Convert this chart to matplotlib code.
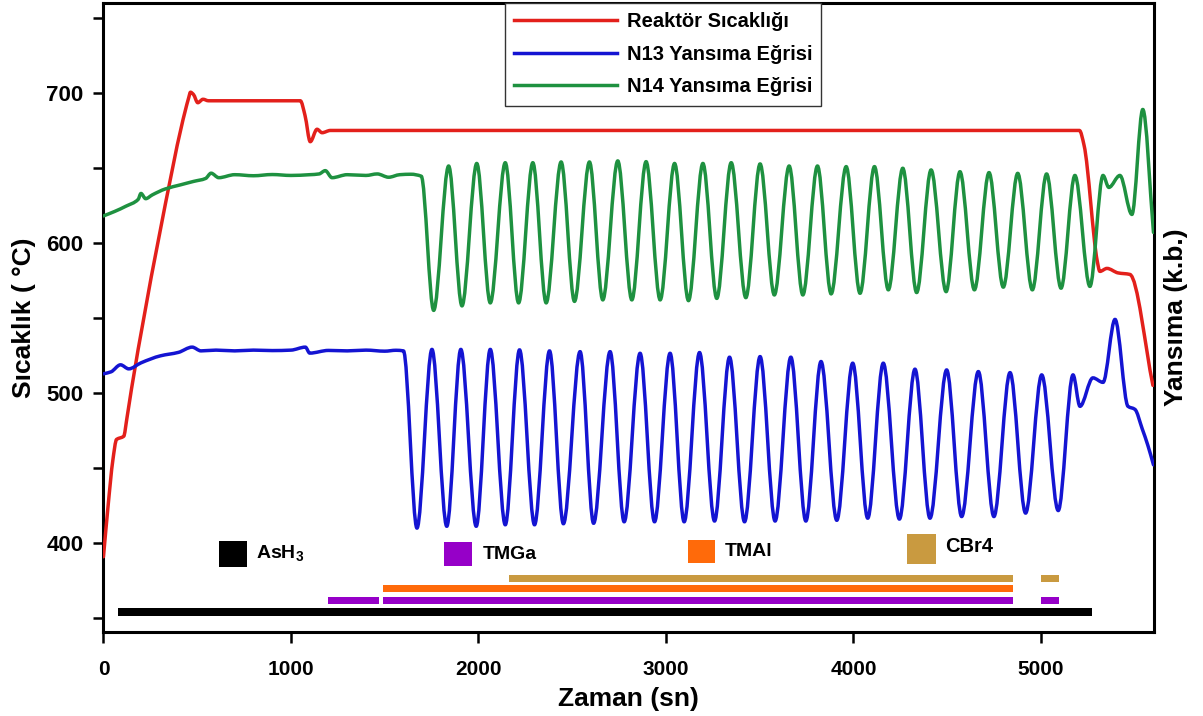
import numpy as np
import matplotlib
matplotlib.use("Agg")
import matplotlib.pyplot as plt
from matplotlib.path import Path
from matplotlib.patches import PathPatch, Rectangle
from matplotlib.lines import Line2D
from matplotlib.ticker import FuncFormatter

# ---------------------------------------------------------------- data
# Reactor temperature (s, °C)
temp_t = [0, 25, 50, 70, 90, 108, 125, 150, 290, 455, 464, 480, 503, 531, 560,
          1050, 1075, 1103, 1139, 1166, 1210, 5205, 5230, 5300, 5314, 5352,
          5411, 5474, 5597]
temp_v = [390.7, 425, 455, 469, 470, 471, 483, 503, 600, 697, 700.5, 699,
          693.5, 695.8, 694.8, 694.8, 685, 667.5, 675.8, 673.5, 675, 675, 665,
          588, 581, 583, 580, 579, 505]

# N13 reflectance trace (plotted on the temperature scale)
n13_t = [0, 40, 91, 135, 200, 304, 400, 473, 520, 600, 700, 800, 900, 1000,
         1077, 1100, 1200, 1300, 1400, 1500, 1560, 1600,
         1672, 1752, 1831, 1906, 1988, 2063, 2143, 2219, 2299, 2379, 2453,
         2542, 2614, 2702, 2777, 2862, 2939, 3022, 3097, 3179, 3259, 3339,
         3419, 3502, 3582, 3666, 3746, 3827, 3911, 3996, 4076, 4159, 4245,
         4328, 4408, 4497, 4577, 4666, 4749, 4835, 4918, 5004, 5092,
         5171, 5208, 5277, 5331, 5395, 5464, 5501, 5540, 5570, 5600]
n13_v = [512.7, 514, 518.7, 516, 520, 524.7, 527, 530.5, 528, 528.5, 528,
         528.5, 528.2, 528.5, 530.5, 526.5, 528.3, 528, 528.5, 527.8, 528.4,
         528,
         409.8, 529, 411, 529, 411, 529, 412, 528.7, 412, 528, 412.7,
         527.5, 413, 527.5, 414, 526.4, 414, 526.4, 414, 526.9, 414.5, 523.8,
         414, 524.2, 414.5, 523.8, 414.5, 520.9, 415, 519.8, 416.4, 519.8,
         415.8, 515.8, 416.4, 515.3, 417.5, 514.2, 417.5, 513.5, 419.8, 512,
         421.5,
         512, 491, 510, 507, 549, 491, 489, 476, 465, 452]

# N14 reflectance trace
n14_t = [0, 60, 120, 185, 200, 225, 260, 330, 410, 480, 545, 574, 615, 700,
         800, 900, 1000, 1100, 1150, 1183, 1219, 1300, 1400, 1460, 1521, 1580,
         1640, 1695,
         1761, 1841, 1912, 1991, 2063, 2143, 2214, 2290, 2361, 2441, 2512,
         2592, 2663, 2743, 2818, 2894, 2969, 3046, 3120, 3197, 3271, 3348,
         3426, 3502, 3578, 3657, 3730, 3808, 3881, 3961, 4035, 4112, 4186,
         4263, 4337, 4414, 4494, 4568, 4645, 4723, 4799, 4876, 4954, 5030,
         5107, 5181, 5261, 5331, 5362, 5421, 5485, 5543, 5600]
n14_v = [618, 621, 624.5, 629, 633, 629.5, 632, 636, 638.7, 641, 643, 646.5,
         643.5, 645.5, 644.8, 645.6, 645, 645.5, 646, 648.2, 643.5, 645.5, 645,
         646, 643.8, 645.5, 645.8, 644.5,
         555, 651.3, 558, 653, 560, 653.5, 560, 653.5, 560, 654, 561,
         654, 562, 654.7, 562, 654.2, 562, 653, 561.5, 653, 563, 653.5,
         563.5, 652.7, 565.3, 651.3, 565.3, 651.3, 566, 650.9, 566.4, 650.9,
         568.7, 649.8, 566.9, 648.7, 567.5, 647.5, 568.7, 646.9, 570.5,
         646.4, 568.7, 646,
         569.8, 645, 571, 645, 637, 645, 619, 689, 607]

# Source flow periods (s): start, end
ash3_on = [(75, 5272)]
tmga_on = [(1197, 1471), (1490, 4853), (5000, 5097)]
tmal_on = [(1490, 4853)]
cbr4_on = [(2164, 4853), (5000, 5097)]

x_ticks = [0, 1000, 2000, 3000, 4000, 5000]
y_ticks = [350, 400, 450, 500, 550, 600, 650, 700, 750]

series_labels = ["Reaktör Sıcaklığı", "N13 Yansıma Eğrisi", "N14 Yansıma Eğrisi"]
gas_labels = ["AsH$_3$", "TMGa", "TMAl", "CBr4"]

# ---------------------------------------------------------------- style
RED = "#e3201b"
BLUE = "#1414d2"
GREEN = "#1e9140"
PURPLE = "#9600c8"
ORANGE = "#ff6a0a"
TAN = "#c99a40"

plt.rcParams["font.family"] = ["Liberation Sans", "DejaVu Sans"]
plt.rcParams["font.weight"] = "bold"
plt.rcParams["mathtext.fontset"] = "custom"
plt.rcParams["mathtext.rm"] = "Liberation Sans:bold"
plt.rcParams["mathtext.it"] = "Liberation Sans:bold"
plt.rcParams["mathtext.bf"] = "Liberation Sans:bold"


def pchip_slopes(x, y):
    h = np.diff(x)
    d = np.diff(y) / h
    n = len(x)
    m = np.zeros(n)
    for i in range(1, n - 1):
        if d[i - 1] * d[i] > 0:
            w1 = 2 * h[i] + h[i - 1]
            w2 = h[i] + 2 * h[i - 1]
            m[i] = (w1 + w2) / (w1 / d[i - 1] + w2 / d[i])
    m[0] = d[0]
    m[-1] = d[-1]
    return m


def smooth_path(x, y):
    """Monotone cubic (Bezier) path through the measured points."""
    x = np.asarray(x, float)
    y = np.asarray(y, float)
    m = pchip_slopes(x, y)
    verts = [(x[0], y[0])]
    codes = [Path.MOVETO]
    for i in range(len(x) - 1):
        h = x[i + 1] - x[i]
        verts += [(x[i] + h / 3, y[i] + m[i] * h / 3),
                  (x[i + 1] - h / 3, y[i + 1] - m[i + 1] * h / 3),
                  (x[i + 1], y[i + 1])]
        codes += [Path.CURVE4] * 3
    return Path(verts, codes)


fig = plt.figure(figsize=(12.03, 7.16), dpi=100)
ax = fig.add_axes([0.086, 0.1173, 0.8733, 0.8785])

LW = 2.5
for tx, vy, col in [(temp_t, temp_v, RED), (n13_t, n13_v, BLUE), (n14_t, n14_v, GREEN)]:
    ax.add_patch(PathPatch(smooth_path(tx, vy), fill=False, edgecolor=col,
                           lw=LW, joinstyle="round", capstyle="round", zorder=3))

# source flow bars
bar_rows = [(ash3_on, 354.0, 5.4, "black"),
            (tmga_on, 361.7, 4.7, PURPLE),
            (tmal_on, 369.3, 4.7, ORANGE),
            (cbr4_on, 376.4, 4.7, TAN)]
for spans, level, thick, col in bar_rows:
    starts = [s for s, e in spans]
    widths = [e - s for s, e in spans]
    ax.barh([level] * len(spans), widths, left=starts, height=thick,
            color=col, edgecolor="none", zorder=2)

# gas key: colour square + name
key_items = [((616, 384.0), 149, 17.3, 813, 393.3, "black"),
             ((1816, 384.7), 149, 16.0, 2024, 392.0, PURPLE),
             ((3117, 386.7), 144, 15.3, 3315, 394.0, ORANGE),
             ((4285, 386.0), 155, 20.0, 4488, 397.3, TAN)]
for (xy, w, h, tx, ty, col), lab in zip(key_items, gas_labels):
    ax.add_patch(Rectangle(xy, w, h, facecolor=col, edgecolor="none", zorder=2))
    ax.text(tx, ty, lab, fontsize=14.5 if lab == "CBr4" else 14,
            fontweight="bold", ha="left", va="center", zorder=4)

ax.set_xlim(0, 5603)
ax.set_ylim(340.5, 760)
ax.set_xticks(x_ticks)
ax.set_yticks(y_ticks)
ax.yaxis.set_major_formatter(FuncFormatter(
    lambda v, p: f"{int(v)}" if int(v) % 100 == 0 else ""))
ax.tick_params(axis="y", direction="out", length=7.5, width=1.8, pad=7,
               labelsize=16)
ax.tick_params(axis="x", direction="out", length=8, width=1.8, pad=12,
               labelsize=15)
ax.tick_params(right=False, top=False)
for lab in ax.get_xticklabels() + ax.get_yticklabels():
    lab.set_fontweight("bold")
for sp in ax.spines.values():
    sp.set_linewidth(2.2)

ax.text(-0.0757, 0.50, "Sıcaklık ( °C)", transform=ax.transAxes, rotation=90,
        ha="center", va="center", fontsize=19, fontweight="bold")
ax.text(0.5, -0.107, "Zaman (sn)", transform=ax.transAxes, ha="center",
        va="center", fontsize=19, fontweight="bold")
ax.text(1.0205, 0.50, "Yansıma (k.b.)", transform=ax.transAxes, rotation=90,
        ha="center", va="center", fontsize=19, fontweight="bold")

handles = [Line2D([], [], color=c, lw=LW) for c in (RED, BLUE, GREEN)]
leg = ax.legend(handles, series_labels, loc="upper left",
                bbox_to_anchor=(0.382, 1.0), borderaxespad=0.0,
                prop={"size": 14.5, "weight": "bold"}, handlelength=5.1,
                handletextpad=0.5, labelspacing=0.68, borderpad=0.45,
                fancybox=False, framealpha=1.0, edgecolor="#333333")
leg.get_frame().set_linewidth(1.0)
leg.set_zorder(5)

fig.savefig("out.png", dpi=100)
